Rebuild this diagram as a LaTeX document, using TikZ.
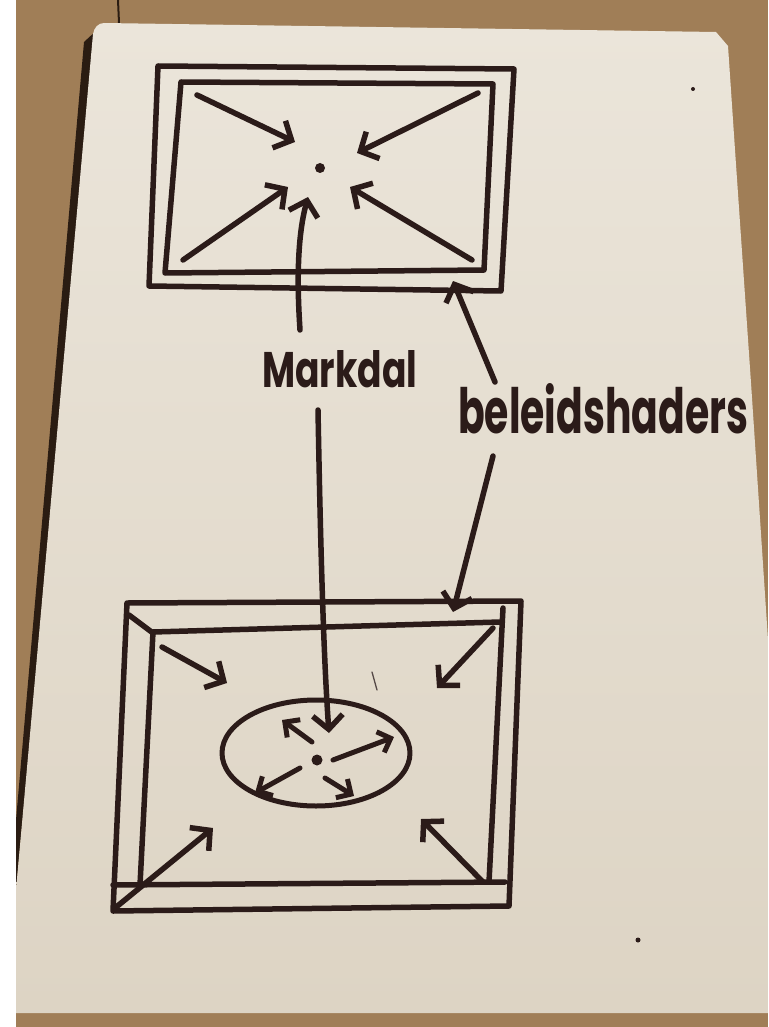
\documentclass[tikz,border=0pt]{standalone}
\usepackage{fontspec}
\newfontfamily\hand{Poppins}
\usetikzlibrary{arrows.meta}
\definecolor{ink}{HTML}{2B1B19}
\definecolor{tablec}{HTML}{A07E57}
\definecolor{paperT}{HTML}{EBE5DA}
\definecolor{paperB}{HTML}{DDD4C4}
\definecolor{shadowc}{HTML}{2A1C12}
\begin{document}
\begin{tikzpicture}[x=1pt,y=-1pt,line cap=round,line join=round,
  frame/.style={draw=ink,line width=5.5pt},
  arr/.style={draw=ink,line width=5.5pt,-{Straight Barb[length=14pt,width=30pt]}},
  earr/.style={draw=ink,line width=5pt,-{Straight Barb[length=11pt,width=22pt]}},
  lbl/.style={inner sep=0pt,anchor=south west,text=ink}]
\useasboundingbox (0,0) rectangle (768,1027);
% background
\fill[white] (0,0) rectangle (768,1027);
\fill[tablec] (16,0) rectangle (768,1027);
\draw[shadowc,line width=2pt] (118,0) -- (119,23);
\fill[shadowc] (97,30) -- (84,42) -- (16,820) -- (16,890) -- cycle;
\shade[top color=paperT,bottom color=paperB]
  (16,1013) -- (16,890) -- (93,34) to[out=80,in=180] (104,23) -- (716,32) -- (728,46) -- (735,150) -- (751,383) -- (768,640) -- (768,1013) -- cycle;
% stray marks
\fill[ink] (693,89) circle (2);
\fill[ink] (638,940) circle (2.5);
\draw[ink!80,line width=1.3pt] (372,672) -- (377,690);
% ===== top frame =====
\draw[frame] (158,66) -- (514,69) -- (501,291) -- (149,286) -- cycle;
\draw[frame] (181,82) -- (493,84) -- (484,270) -- (165,273) -- cycle;
\fill[ink] (320,168) circle (5);
\coordinate (t1s) at (197,95);  \coordinate (t1e) at (295,142);
\coordinate (t2s) at (478,93);  \coordinate (t2e) at (357,153);
\coordinate (t3s) at (183,260); \coordinate (t3e) at (288,187);
\coordinate (t4s) at (472,260); \coordinate (t4e) at (350,187);
\draw[arr] (t1s) -- (t1e);
\draw[arr] (t2s) -- (t2e);
\draw[arr] (t3s) -- (t3e);
\draw[arr] (t4s) -- (t4e);
% ===== labels =====
\node[lbl] (markdal) at (262,388) {\resizebox{155pt}{37pt}{\hand\bfseries Markdal}};
\node[lbl] (beleid) at (458,434) {\resizebox{290pt}{50pt}{\hand\bfseries beleidshaders}};
\coordinate (mUp) at (300,330);  \coordinate (mUpTip) at (308,197);
\coordinate (mDn) at (318,410);  \coordinate (mDnTip) at (329,733);
\coordinate (bUp) at (495,382);  \coordinate (bUpTip) at (453,281);
\coordinate (bDn) at (493,456);  \coordinate (bDnTip) at (453,612);
\draw[arr] (mUp) .. controls (296,270) and (299,230) .. (mUpTip);
\draw[arr] (mDn) .. controls (320,520) and (323,650) .. (mDnTip);
\draw[arr] (bUp) -- (bUpTip);
\draw[arr] (bDn) -- (bDnTip);
% ===== bottom frame =====
\draw[frame] (127,603) -- (521,601) -- (509,906) -- (113,911) -- cycle;
\draw[frame] (140,885) -- (153,632) -- (500,622);
\draw[frame] (129,615) -- (153,633);
\draw[frame] (503,608) -- (489,882);
\draw[frame] (113,885) -- (505,882);
\coordinate (b1s) at (162,647); \coordinate (b1e) at (227,683);
\coordinate (b2s) at (493,628); \coordinate (b2e) at (437,688);
\coordinate (b3s) at (115,908); \coordinate (b3e) at (213,828);
\coordinate (b4s) at (483,882); \coordinate (b4e) at (421,819);
\draw[arr] (b1s) -- (b1e);
\draw[arr] (b2s) -- (b2e);
\draw[arr] (b3s) -- (b3e);
\draw[arr] (b4s) -- (b4e);
% ellipse
\draw[draw=ink,line width=5pt] (316,753) ellipse [x radius=94,y radius=53];
\fill[ink] (317,760) circle (5.5);
\coordinate (e1s) at (312,742); \coordinate (e1e) at (282,720);
\coordinate (e2s) at (333,760); \coordinate (e2e) at (394,737);
\coordinate (e3s) at (300,768); \coordinate (e3e) at (255,793);
\coordinate (e4s) at (325,778); \coordinate (e4e) at (354,796);
\draw[earr] (e1s) -- (e1e);
\draw[earr] (e2s) -- (e2e);
\draw[earr] (e3s) -- (e3e);
\draw[earr] (e4s) -- (e4e);
\end{tikzpicture}
\end{document}
